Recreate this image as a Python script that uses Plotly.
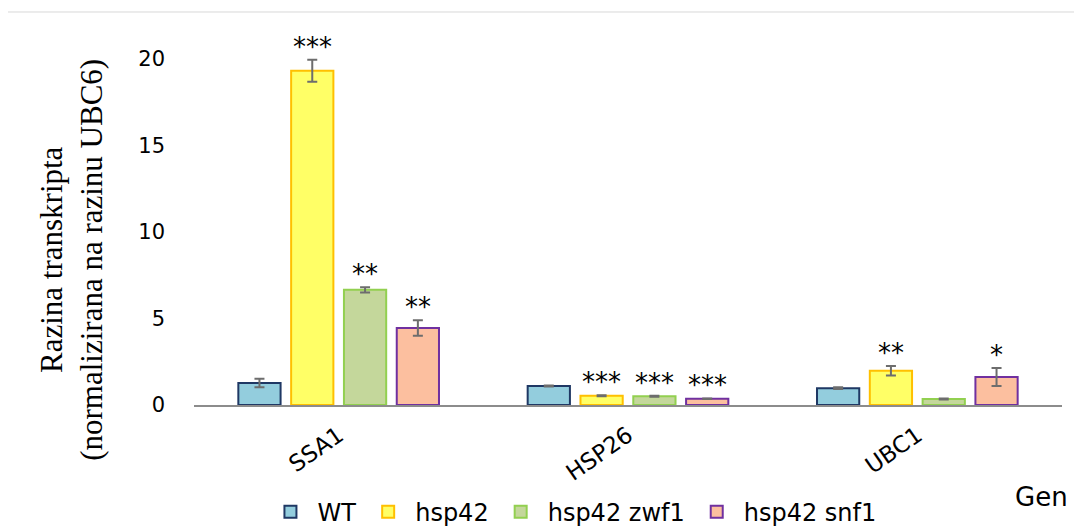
import plotly.graph_objects as go

genes = ["SSA1", "HSP26", "UBC1"]
series = ["WT", "hsp42", "hsp42 zwf1", "hsp42 snf1"]
values = {
    "WT":         [1.27, 1.10, 0.97],
    "hsp42":      [19.3, 0.53, 1.98],
    "hsp42 zwf1": [6.65, 0.51, 0.35],
    "hsp42 snf1": [4.45, 0.36, 1.62],
}
errors = {
    "WT":         [0.25, 0.03, 0.05],
    "hsp42":      [0.63, 0.03, 0.27],
    "hsp42 zwf1": [0.15, 0.03, 0.03],
    "hsp42 snf1": [0.45, 0.02, 0.52],
}
stars = {
    "WT":         ["", "", ""],
    "hsp42":      ["***", "***", "**"],
    "hsp42 zwf1": ["**", "***", ""],
    "hsp42 snf1": ["**", "***", "*"],
}
fills = {"WT": "#93CDDD", "hsp42": "#FFFF66", "hsp42 zwf1": "#C4D79B", "hsp42 snf1": "#FCBF9F"}
borders = {"WT": "#1F3864", "hsp42": "#FFC000", "hsp42 zwf1": "#92D050", "hsp42 snf1": "#7030A0"}

SANS = "DejaVu Sans, sans-serif"
BARGAP = 0.27
BARGROUPGAP = 0.2

fig = go.Figure()
xs = list(range(len(genes)))
for s in series:
    fig.add_trace(go.Bar(
        name=s, x=xs, y=values[s],
        marker=dict(color=fills[s], line=dict(color=borders[s], width=2)),
        error_y=dict(type="data", array=errors[s], color="#6D6D6D", thickness=2, width=5),
    ))

# significance stars above each bar's error bar
slot = (1 - BARGAP) / len(series)
annotations = []
for i, s in enumerate(series):
    for j, g in enumerate(genes):
        if stars[s][j]:
            annotations.append(dict(
                x=xs[j] + (i - (len(series) - 1) / 2) * slot,
                y=values[s][j] + errors[s][j],
                xref="x", yref="y", text=stars[s][j], showarrow=False,
                yanchor="bottom", yshift=-4,
                font=dict(family=SANS, size=26, color="#000000"),
            ))

annotations.append(dict(
    x=-0.1406, y=0.381, xref="paper", yref="paper", textangle=-90,
    text="Razina transkripta<br>(normalizirana na razinu UBC6)", showarrow=False,
    font=dict(family="Liberation Serif, Times New Roman, serif", size=31, color="#000000"),
    xanchor="center", yanchor="middle",
))
annotations.append(dict(
    x=1.009, y=-0.2415, xref="paper", yref="paper", text="Gen", showarrow=False,
    xanchor="right", yanchor="middle",
    font=dict(family=SANS, size=26, color="#000000"),
))

fig.update_layout(
    width=1082, height=530,
    margin=dict(l=186, r=28, t=16, b=133, autoexpand=False),
    paper_bgcolor="white", plot_bgcolor="white",
    barmode="group", bargap=BARGAP, bargroupgap=BARGROUPGAP,
    showlegend=True,
    legend=dict(orientation="h", x=0.08, xanchor="left", y=-0.281, yanchor="middle",
                itemwidth=44,
                font=dict(family=SANS, size=24, color="#000000"), itemclick=False),
    annotations=annotations,
    shapes=[dict(type="rect", xref="paper", yref="paper", x0=-0.2154, x1=1.1, y0=-0.6, y1=1.0315,
                 line=dict(color="#D9D9D9", width=1), fillcolor="rgba(0,0,0,0)", layer="below")],
)
fig.update_xaxes(
    tickmode="array", tickvals=xs, ticktext=genes, tickangle=-35,
    range=[-0.5, len(genes) - 0.5], automargin=False,
    showline=True, linecolor="#8C8C8C", linewidth=2, showgrid=False, ticks="",
    ticklabelstandoff=6,
    tickfont=dict(family=SANS, size=23, color="#000000"),
)
fig.update_yaxes(
    range=[0, 22], tickvals=[0, 5, 10, 15, 20], showgrid=False, zeroline=False,
    showline=False, ticks="", ticklabelstandoff=28, automargin=False,
    tickfont=dict(family=SANS, size=21, color="#000000"),
)

fig.write_html("out.html")
